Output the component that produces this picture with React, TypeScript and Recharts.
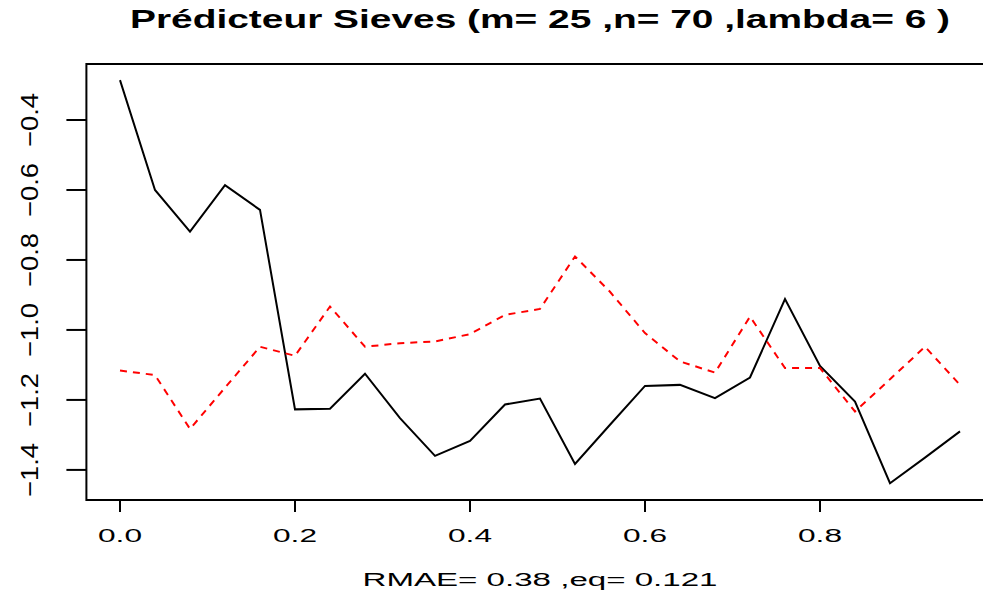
import React from 'react';
import { LineChart, Line, XAxis, YAxis, ReferenceArea } from 'recharts';

// grille des abscisses (m = 25 points)
const xs = [
  0.0, 0.04, 0.08, 0.12, 0.16, 0.2, 0.24, 0.28, 0.32, 0.36, 0.4, 0.44, 0.48,
  0.52, 0.56, 0.6, 0.64, 0.68, 0.72, 0.76, 0.8, 0.84, 0.88, 0.92, 0.96,
];

// série observée (trait plein noir)
const observed = [
  -0.286, -0.6, -0.719, -0.586, -0.657, -1.227, -1.225, -1.125, -1.252, -1.36,
  -1.317, -1.213, -1.196, -1.383, -1.271, -1.16, -1.157, -1.195, -1.136, -0.912,
  -1.103, -1.205, -1.438, -1.365, -1.29,
];

// prédicteur Sieves (pointillé rouge)
const predicted = [
  -1.116, -1.129, -1.283, -1.165, -1.048, -1.074, -0.933, -1.048, -1.038, -1.033,
  -1.012, -0.957, -0.94, -0.79, -0.891, -1.009, -1.09, -1.122, -0.962, -1.109,
  -1.109, -1.233, -1.141, -1.048, -1.157,
];

const xTicks = [0, 0.2, 0.4, 0.6, 0.8];
const yTicks = [-1.4, -1.2, -1.0, -0.8, -0.6, -0.4];

const title = 'Prédicteur Sieves (m= 25 ,n= 70 ,lambda= 6 )';
const footer = 'RMAE= 0.38 ,eq= 0.121';

const X_DOMAIN: [number, number] = [-0.0384, 0.9984];
const Y_DOMAIN: [number, number] = [-1.486, -0.24];

const FONT = '"Liberation Sans", Arial, Helvetica, sans-serif';

const data = xs.map((x, i) => ({ x, obs: observed[i], pred: predicted[i] }));

const fmt = (v: number) => v.toFixed(1).replace('-', '\u2212');

const XTick = (props: any) => {
  const { x, payload } = props;
  return (
    <text
      x={x}
      y={542}
      textAnchor="middle"
      fontSize={18}
      fontFamily={FONT}
      fill="#000"
      textLength={44}
      lengthAdjust="spacingAndGlyphs"
    >
      {fmt(payload.value)}
    </text>
  );
};

const YTick = (props: any) => {
  const { y, payload } = props;
  const w = payload.value < 0 ? 54 : 40;
  return (
    <text
      transform={`translate(37.5, ${y}) rotate(-90)`}
      textAnchor="middle"
      fontSize={24}
      fontFamily={FONT}
      fill="#000"
      textLength={w}
      lengthAdjust="spacingAndGlyphs"
    >
      {fmt(payload.value)}
    </text>
  );
};

const App: React.FC = () => {
  return (
    <div
      style={{
        position: 'absolute',
        left: 0,
        top: 0,
        width: 983,
        height: 595,
        overflow: 'hidden',
        background: '#fff',
      }}
    >
      <LineChart
        width={1000}
        height={595}
        data={data}
        margin={{ top: 64, right: 6.4, left: 0.4, bottom: 0 }}
      >
        <XAxis
          dataKey="x"
          type="number"
          domain={X_DOMAIN}
          ticks={xTicks}
          allowDataOverflow
          height={95}
          tickSize={12}
          axisLine={false}
          tickLine={{ stroke: '#000', strokeWidth: 2 }}
          tick={<XTick />}
        />
        <YAxis
          type="number"
          domain={Y_DOMAIN}
          ticks={yTicks}
          allowDataOverflow
          width={86}
          tickSize={20}
          axisLine={false}
          tickLine={{ stroke: '#000', strokeWidth: 2 }}
          tick={<YTick />}
        />
        <ReferenceArea
          x1={X_DOMAIN[0]}
          x2={X_DOMAIN[1]}
          y1={Y_DOMAIN[0]}
          y2={Y_DOMAIN[1]}
          ifOverflow="visible"
          fill="none"
          fillOpacity={0}
          stroke="#000"
          strokeWidth={2}
        />
        <Line
          dataKey="obs"
          stroke="#000"
          strokeWidth={2}
          dot={false}
          type="linear"
          isAnimationActive={false}
        />
        <Line
          dataKey="pred"
          stroke="#ff0000"
          strokeWidth={2}
          strokeDasharray="7 6"
          dot={false}
          type="linear"
          isAnimationActive={false}
        />
      </LineChart>
      <svg
        width={983}
        height={595}
        style={{ position: 'absolute', left: 0, top: 0, pointerEvents: 'none' }}
      >
        <text
          x={540}
          y={28}
          textAnchor="middle"
          fontSize={25}
          fontWeight="bold"
          fontFamily={FONT}
          fill="#000"
          textLength={820}
          lengthAdjust="spacingAndGlyphs"
        >
          {title}
        </text>
        <text
          x={540}
          y={586}
          textAnchor="middle"
          fontSize={18}
          fontFamily={FONT}
          fill="#000"
          textLength={355}
          lengthAdjust="spacingAndGlyphs"
        >
          {footer}
        </text>
      </svg>
    </div>
  );
};

export default App;
